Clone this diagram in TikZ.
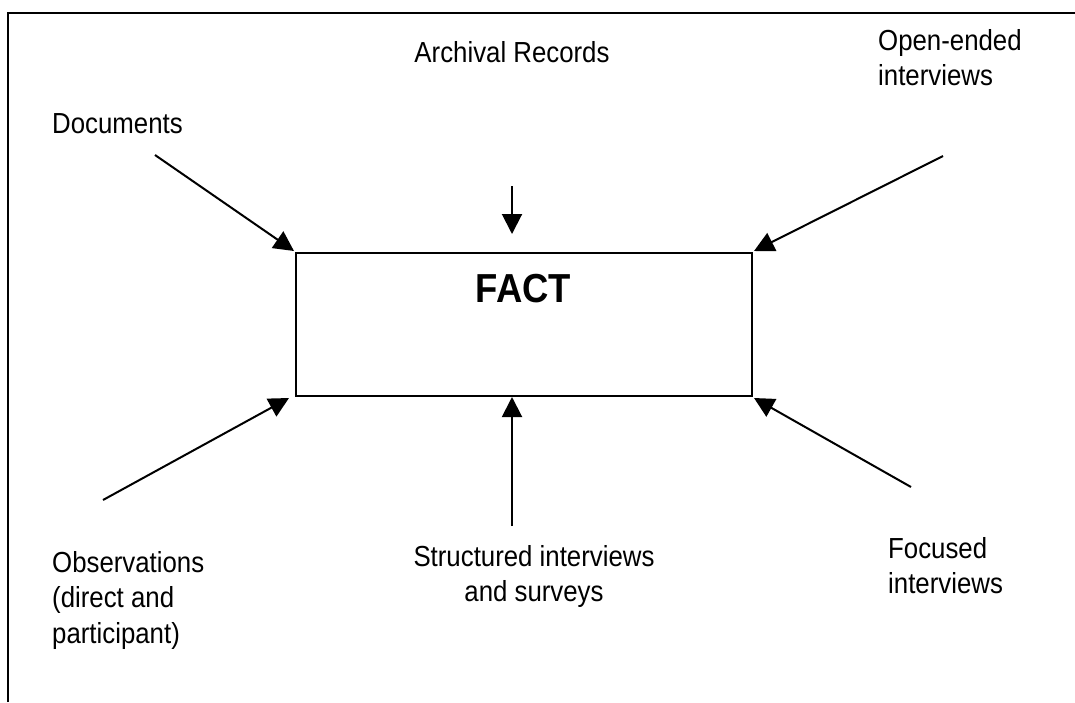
\documentclass[tikz,border=0pt]{standalone}
\usepackage{fontspec}
\setmainfont{Liberation Sans}
\newfontfamily\narrowarial[FakeStretch=0.89]{Liberation Sans}
\newfontfamily\narrowarialb[FakeStretch=0.90]{Liberation Sans Bold}
\usetikzlibrary{arrows.meta}
\begin{document}
\begin{tikzpicture}[x=1pt,y=-1pt,
  lbl/.style={font=\narrowarial\fontsize{29}{35.5}\selectfont, inner sep=0pt},
  arr/.style={line width=2pt,-{Triangle[length=20pt,width=20pt]}},
  factbox/.style={draw,line width=2pt,minimum width=456pt,minimum height=143pt,inner sep=0pt}]
\useasboundingbox (0,0) rectangle (1075,702);
\draw[line width=2pt] (8,702) -- (8,13) -- (1075,13);
\node[factbox] (fact) at (524,324.5) {};
\node[font=\narrowarialb\fontsize{40.5}{46}\selectfont, inner sep=0pt, anchor=base] (factlbl) at (523.5,302) {FACT};
% multi-line nodes: base anchor = baseline of the last line
\node[lbl,anchor=base west] (doc) at (52,133) {Documents};
\node[lbl,anchor=base] (arch) at (512,62) {Archival Records};
\node[lbl,anchor=base west,align=left] (open) at (878,85.5) {Open-ended\\interviews};
\node[lbl,anchor=base west,align=left] (obs) at (52,643) {Observations\\(direct and\\participant)};
\node[lbl,anchor=base,align=center] (str) at (534,601.5) {Structured interviews\\and surveys};
\node[lbl,anchor=base west,align=left] (foc) at (888,593.5) {Focused\\interviews};
\coordinate (docS) at (155,155);
\coordinate (docT) at (294,251);
\coordinate (archS) at (512,186);
\coordinate (archT) at (512,234);
\coordinate (openS) at (943,156);
\coordinate (openT) at (754,251);
\coordinate (obsS) at (103,500);
\coordinate (obsT) at (289,398);
\coordinate (strS) at (512,526);
\coordinate (strT) at (512,397);
\coordinate (focS) at (911,487);
\coordinate (focT) at (754,398);
\draw[arr] (docS) -- (docT);
\draw[arr] (archS) -- (archT);
\draw[arr] (openS) -- (openT);
\draw[arr] (obsS) -- (obsT);
\draw[arr] (strS) -- (strT);
\draw[arr] (focS) -- (focT);
\end{tikzpicture}
\end{document}
